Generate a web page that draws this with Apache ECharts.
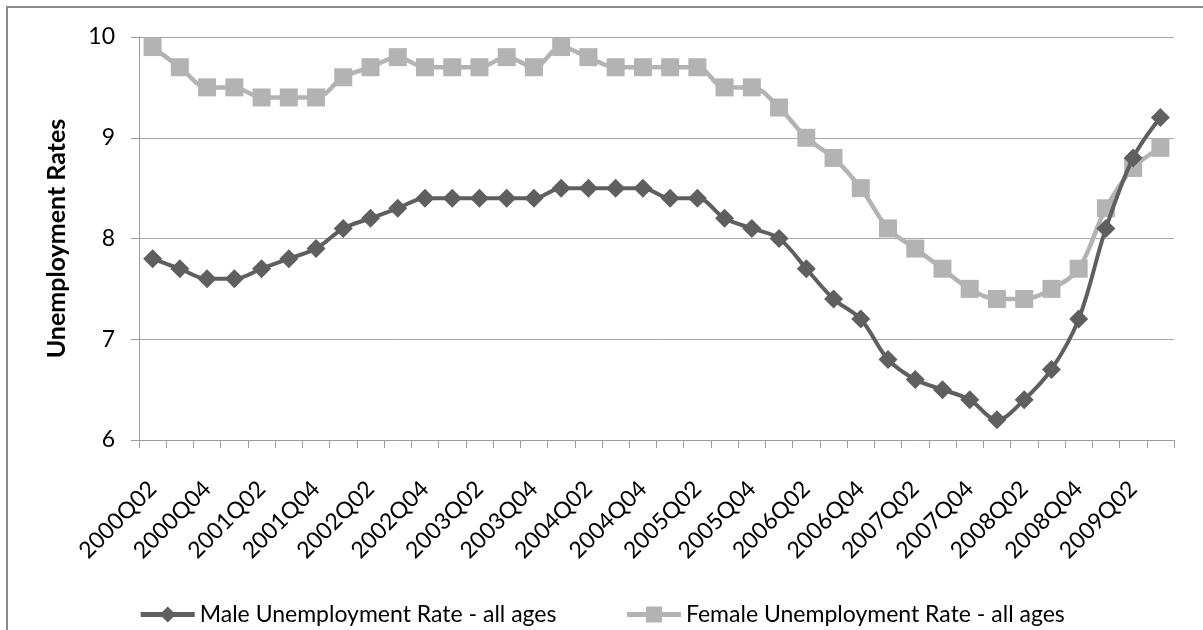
<!DOCTYPE html>
<html>
<head>
<meta charset="utf-8">
<script src="https://cdn.jsdelivr.net/npm/echarts@6/dist/echarts.min.js"></script>
<style>
  html, body { margin: 0; padding: 0; background: #ffffff; }
  #chart { width: 1203px; height: 630px; }
</style>
</head>
<body>
<div id="chart"></div>
<script>
// Quarterly unemployment rates, 2000Q2 - 2009Q3
const quarters = [
  '2000Q02', '2000Q03', '2000Q04',
  '2001Q01', '2001Q02', '2001Q03', '2001Q04',
  '2002Q01', '2002Q02', '2002Q03', '2002Q04',
  '2003Q01', '2003Q02', '2003Q03', '2003Q04',
  '2004Q01', '2004Q02', '2004Q03', '2004Q04',
  '2005Q01', '2005Q02', '2005Q03', '2005Q04',
  '2006Q01', '2006Q02', '2006Q03', '2006Q04',
  '2007Q01', '2007Q02', '2007Q03', '2007Q04',
  '2008Q01', '2008Q02', '2008Q03', '2008Q04',
  '2009Q01', '2009Q02', '2009Q03'
];

const maleRate = [
  7.8, 7.7, 7.6, 7.6, 7.7, 7.8, 7.9, 8.1, 8.2, 8.3,
  8.4, 8.4, 8.4, 8.4, 8.4, 8.5, 8.5, 8.5, 8.5, 8.4,
  8.4, 8.2, 8.1, 8.0, 7.7, 7.4, 7.2, 6.8, 6.6, 6.5,
  6.4, 6.2, 6.4, 6.7, 7.2, 8.1, 8.8, 9.2
];

const femaleRate = [
  9.9, 9.7, 9.5, 9.5, 9.4, 9.4, 9.4, 9.6, 9.7, 9.8,
  9.7, 9.7, 9.7, 9.8, 9.7, 9.9, 9.8, 9.7, 9.7, 9.7,
  9.7, 9.5, 9.5, 9.3, 9.0, 8.8, 8.5, 8.1, 7.9, 7.7,
  7.5, 7.4, 7.4, 7.5, 7.7, 8.3, 8.7, 8.9
];

const seriesNames = ['Male Unemployment Rate - all ages', 'Female Unemployment Rate - all ages'];
const yTicks = { min: 6, max: 10, step: 1 };

const FONT = 'Lato, "Open Sans", sans-serif';
const MALE = '#5f5f5f';
const FEMALE = '#b3b3b3';
const AXIS = '#9c9c9c';

const chart = echarts.init(document.getElementById('chart'), null, { renderer: 'canvas' });

chart.setOption({
  backgroundColor: '#ffffff',
  animation: false,
  textStyle: { fontFamily: FONT },
  graphic: [{
    type: 'rect',
    shape: { x: 7, y: 7, width: 1220, height: 650 },
    style: { fill: 'none', stroke: '#8a8a8a', lineWidth: 2 },
    silent: true,
    z: -1
  }],
  grid: { left: 139, right: 29, top: 37, bottom: 190, containLabel: false },
  legend: {
    data: seriesNames,
    left: 'center',
    top: 598,
    itemWidth: 54,
    itemHeight: 20,
    itemGap: 68,
    lineStyle: { width: 5 },
    textStyle: { fontFamily: FONT, fontSize: 23, color: '#000000' }
  },
  xAxis: {
    type: 'category',
    data: quarters,
    boundaryGap: true,
    axisLine: { show: true, lineStyle: { color: AXIS, width: 1 } },
    axisTick: { show: true, interval: 0, length: 8, lineStyle: { color: AXIS } },
    axisLabel: {
      interval: 1,
      rotate: 45,
      margin: 45,
      fontFamily: FONT,
      fontSize: 23,
      color: '#000000'
    },
    splitLine: { show: false }
  },
  yAxis: {
    type: 'value',
    min: yTicks.min,
    max: yTicks.max,
    interval: yTicks.step,
    name: 'Unemployment Rates',
    nameLocation: 'middle',
    nameGap: 70,
    nameTextStyle: { fontFamily: FONT, fontSize: 25, fontWeight: 'bold', color: '#000000' },
    axisLine: { show: true, lineStyle: { color: AXIS, width: 1 } },
    axisTick: { show: true, length: 8, lineStyle: { color: AXIS } },
    axisLabel: { margin: 24, fontFamily: FONT, fontSize: 23, color: '#000000' },
    splitLine: { show: true, lineStyle: { color: '#a8a8a8', width: 1 } }
  },
  series: [
    {
      name: seriesNames[0],
      type: 'line',
      data: maleRate,
      smooth: 0.35,
      symbol: 'diamond',
      symbolSize: 19,
      showAllSymbol: true,
      itemStyle: { color: MALE },
      lineStyle: { color: MALE, width: 4, join: 'round' },
      z: 3
    },
    {
      name: seriesNames[1],
      type: 'line',
      data: femaleRate,
      smooth: 0.35,
      symbol: 'rect',
      symbolSize: 18,
      showAllSymbol: true,
      itemStyle: { color: FEMALE },
      lineStyle: { color: FEMALE, width: 4.5, join: 'round' },
      z: 2
    }
  ]
});
</script>
</body>
</html>
